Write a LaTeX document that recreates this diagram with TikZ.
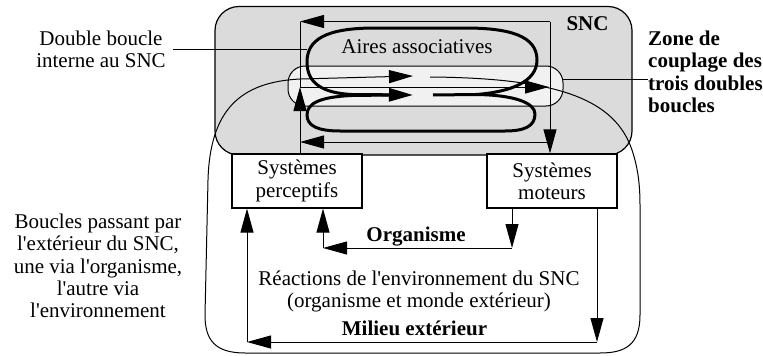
\documentclass[tikz,border=0pt]{standalone}
\usepackage{fontspec}
\newfontfamily\lserif{Liberation Serif}
\usetikzlibrary{arrows.meta}
\definecolor{sncgray}{gray}{0.86}
\definecolor{zonegray}{gray}{0.945}
\begin{document}
\begin{tikzpicture}[x=1pt,y=-1pt,
  font=\lserif\fontsize{21}{22.3}\selectfont,
  >={Triangle[length=24pt,width=13pt]},
  fine/.style={line width=1pt},
  heavy/.style={line width=3pt},
  boldtxt/.style={font=\lserif\fontsize{21}{22.5}\selectfont\bfseries},
  txt/.style={inner sep=0pt, align=center},
  sysbox/.style={draw, line width=1.2pt, fill=white, minimum width=130pt,
    minimum height=54pt, inner sep=0pt, align=center},
]
\useasboundingbox (0,0) rectangle (763,356);

% central nervous system block and coupling zone
\node[draw, line width=1.2pt, fill=sncgray, rounded corners=24pt,
  minimum width=417pt, minimum height=148.5pt, inner sep=0pt] (snc) at (423.5,80.75) {};
\node[draw, fine, fill=zonegray, rounded corners=17pt,
  minimum width=275pt, minimum height=40pt, inner sep=0pt] (zone) at (425.5,86) {};

% perceptive and motor systems
\node[sysbox] (perc) at (297,181) {Systèmes\\perceptifs};
\node[sysbox] (mot) at (552,181) {Systèmes\\moteurs};

% loop through the outside world (outer curve)
\coordinate (ea) at (430,77);
\coordinate (eb) at (413,76);
\draw[fine, ->, line join=round] (ea) .. controls (560,78) and (615,100) .. (632,150)
  .. controls (638,168) and (640,185) .. (640,205) -- (640,315)
  .. controls (640,345) and (625,353) .. (600,353) -- (245,353)
  .. controls (215,353) and (205,340) .. (205,315) -- (208,180)
  .. controls (210,110) and (240,82) .. (300,79) -- (eb);

% loop inside the SNC frame (thin)
\coordinate (tl) at (300,21.5);
\coordinate (tr) at (550,21.5);
\coordinate (ml) at (300,87);
\coordinate (mr) at (549,87);
\coordinate (bl) at (300,142);
\coordinate (br) at (550,142);
\draw[fine, ->] (tr) -- (tl);
\draw[fine] (tl) -- (ml);
\draw[fine, ->] (perc.north -| tl) -- (ml);
\draw[fine, ->] (ml) -- (mr);
\draw[fine, ->] (tr) -- (mot.north -| tr);
\draw[fine, ->] (br) -- (bl);

% loop through the organism
\coordinate (oR) at (512,248);
\coordinate (oL) at (323,248);
\draw[fine, ->] (mot.south -| oR) -- (oR);
\draw[fine, ->] (oR) -- (oL);
\draw[fine, ->] (oL) -- (perc.south -| oL);

% loop through the environment
\coordinate (wR) at (597,342);
\coordinate (wL) at (247,342);
\draw[fine, ->] (mot.south -| wR) -- (wR);
\draw[fine, ->] (wR) -- (wL);
\draw[fine, ->] (wL) -- (perc.south -| wL);

% internal double loop (thick)
\coordinate (ha) at (433,95);
\coordinate (hb) at (413,95);
\coordinate (hs) at (476,94.5);
\draw[heavy, ->, line join=round] (ha) -- (hs)
  .. controls (510,92) and (537,82) .. (537,60)
  .. controls (537,36) and (510,28) .. (465,28) -- (375,28)
  .. controls (325,28) and (307,40) .. (307,62)
  .. controls (307,83) and (322,93) .. (352,94.5) -- (hb);
\draw[heavy, line join=round] (hs)
  .. controls (515,95) and (535,103) .. (535,114)
  .. controls (535,126) and (525,131) .. (505,131) -- (340,131)
  .. controls (318,131) and (307,126) .. (307,115)
  .. controls (307,104) and (318,97) .. (352,95.5) -- (390,95);

% labels
\node[boldtxt, anchor=base, inner sep=0pt] (snclbl) at (587.5,30) {SNC};
\node[anchor=base, inner sep=0pt] (aires) at (417,53) {Aires associatives};
\node[boldtxt, anchor=base, inner sep=0pt] (orgl) at (416,241.5) {Organisme};
\node[txt] (reac) at (419,291.5) {Réactions de l'environnement du SNC\\(organisme et monde extérieur)};
\node[boldtxt, anchor=base, inner sep=0pt] (milieu) at (414.5,335) {Milieu extérieur};

\node[txt] (dbl) at (101,49.1) {Double boucle\\interne au SNC};
\coordinate (dblend) at (307,49.1);
\draw[fine] ([xshift=7pt]dbl.east) -- (dblend);

\node[txt] (bcl) at (98,265.9) {Boucles passant par\\l'extérieur du SNC,\\une via l'organisme,\\l'autre via\\l'environnement};

\node[boldtxt, inner sep=0pt, align=left, anchor=west] (ztxt) at (648,71.6)
  {Zone de\\couplage des\\trois doubles\\boucles};
\coordinate (zl) at (562,79);
\draw[fine] (zl) -- (zl -| ztxt.west);
\end{tikzpicture}
\end{document}
